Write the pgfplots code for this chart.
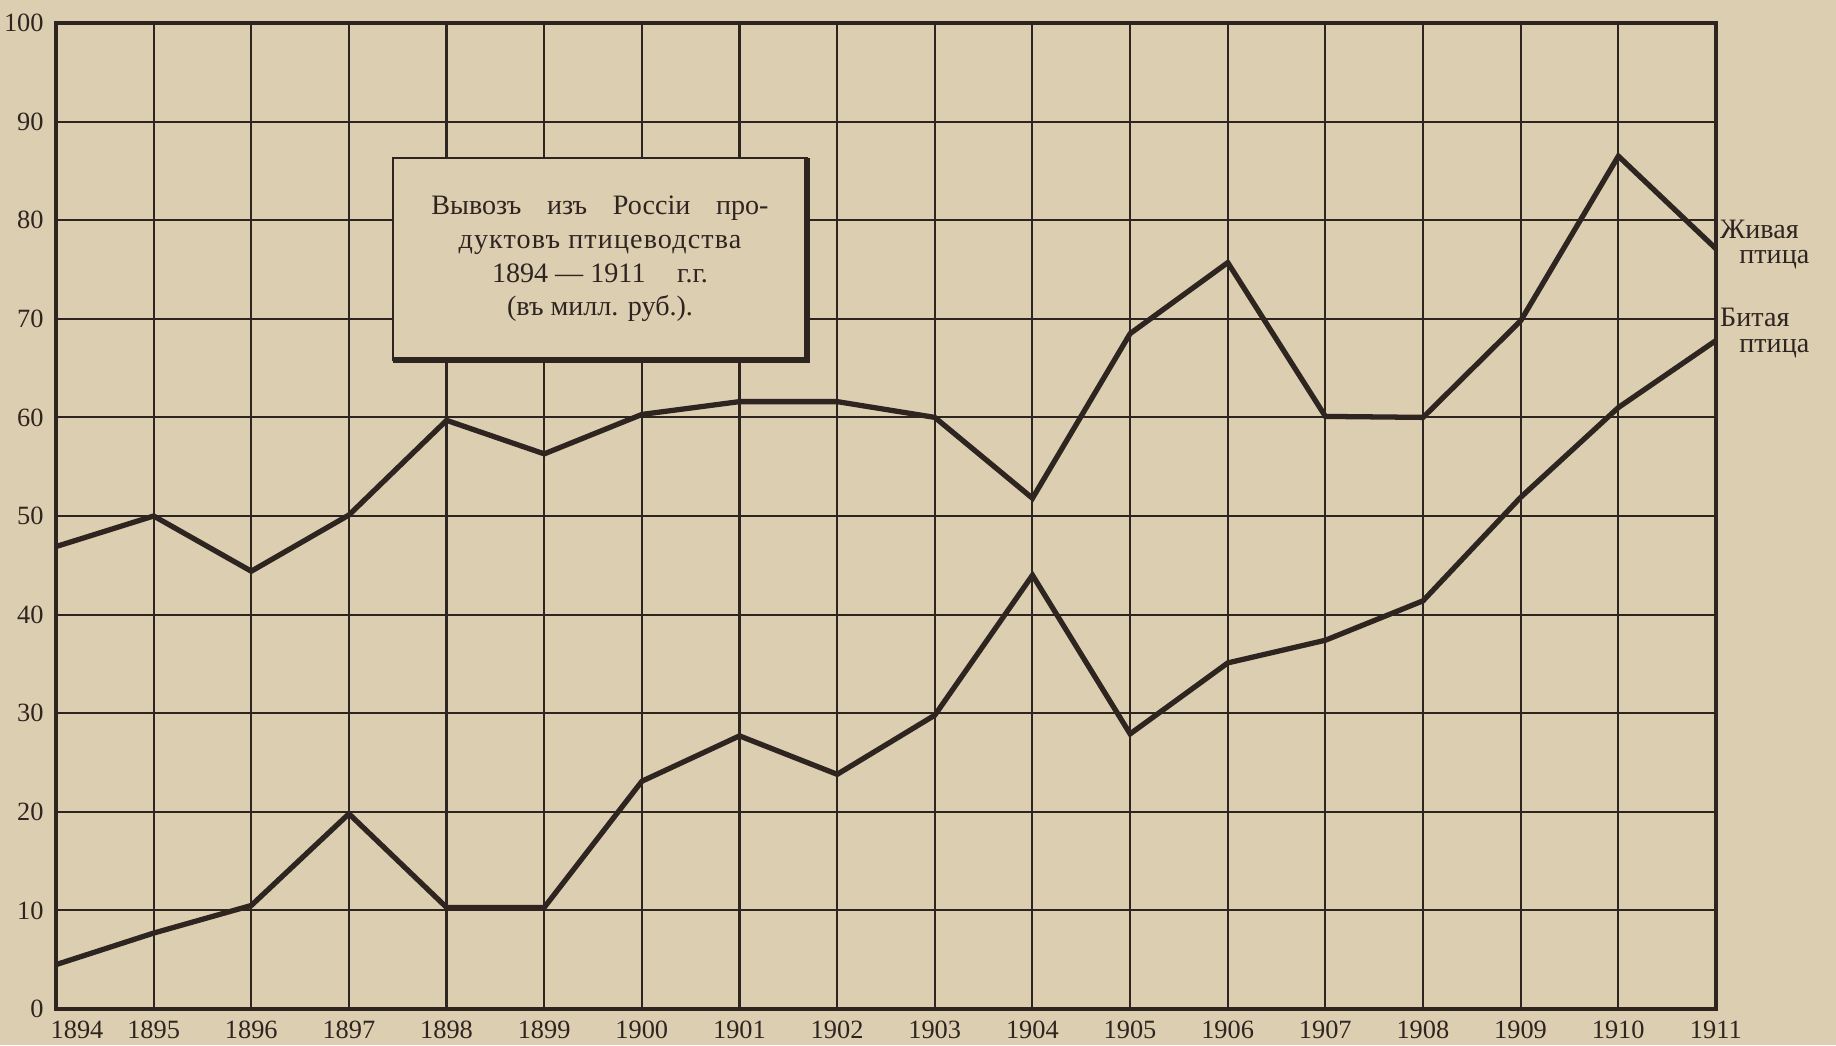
\documentclass[border=0pt]{standalone}
\usepackage{fontspec}
\setmainfont{Liberation Serif}
\usepackage{pgfplots}
\pgfplotsset{compat=1.18}
\definecolor{paper}{RGB}{220,206,176}
\definecolor{ink}{RGB}{46,37,33}
\begin{document}
\begin{tikzpicture}[x=1cm,y=1cm]
\fill[paper] (0,0) rectangle (18.36,10.45);
\begin{axis}[
  at={(0.56cm,0.36cm)}, anchor=south west,
  scale only axis, width=16.6cm, height=9.86cm,
  xmin=1894, xmax=1911, ymin=0, ymax=100,
  xtick={1894,...,1911}, ytick={0,10,...,100},
  xticklabels={\hspace*{0.42cm}1894,1895,1896,1897,1898,1899,1900,1901,1902,1903,1904,1905,1906,1907,1908,1909,1910,1911},
  /pgf/number format/.cd, 1000 sep={}, assume math mode=true,
  /pgfplots/.cd,
  grid=major, grid style={ink, line width=0.6pt},
  axis line style={ink, line width=1.3pt},
  major tick length=0pt,
  tick label style={font=\fontsize{7.5}{8}\selectfont, text=ink},
  clip=false,
]
% Живая птица
\addplot[ink, line width=1.5pt, line join=miter] coordinates {
(1894,46.9) (1895,50.0) (1896,44.4) (1897,50.1) (1898,59.7) (1899,56.3)
(1900,60.3) (1901,61.6) (1902,61.6) (1903,60.0) (1904,51.8) (1905,68.5)
(1906,75.7) (1907,60.1) (1908,60.0) (1909,69.8) (1910,86.5) (1911,77.1)
};
% Битая птица
\addplot[ink, line width=1.5pt, line join=miter] coordinates {
(1894,4.5) (1895,7.7) (1896,10.5) (1897,19.8) (1898,10.3) (1899,10.3)
(1900,23.1) (1901,27.7) (1902,23.8) (1903,29.8) (1904,44.0) (1905,27.9)
(1906,35.1) (1907,37.4) (1908,41.4) (1909,51.9) (1910,61.0) (1911,67.8)
};
\node[anchor=west, inner sep=1pt, text=ink, font=\fontsize{8}{9}\selectfont] at (axis cs:1911,79.1) {Живая};
\node[anchor=east, inner sep=0pt, text=ink, font=\fontsize{8}{9}\selectfont, xshift=0.94cm] at (axis cs:1911,76.0) {птица};
\node[anchor=west, inner sep=1pt, text=ink, font=\fontsize{8}{9}\selectfont] at (axis cs:1911,70.1) {Битая};
\node[anchor=east, inner sep=0pt, text=ink, font=\fontsize{8}{9}\selectfont, xshift=0.94cm] at (axis cs:1911,67.0) {птица};
\end{axis}
\node[fill=paper, draw=ink, line width=0.6pt, minimum width=4.14cm, minimum height=2.02cm,
      align=center, text=ink, font=\fontsize{8}{9.6}\selectfont, inner sep=0pt]
  at (6.0,7.86) {Вывозъ\hspace{5.3pt} изъ\hspace{5.3pt} Россіи\hspace{5.3pt} про-\\
  {\addfontfeature{LetterSpace=4}дуктовъ птицеводства}\\
  1894 — 1911\hspace{7pt} г.г.\\
  (въ милл. руб.).};
\draw[ink, line width=1.6pt] (3.93,6.85) -- (8.07,6.85) -- (8.07,8.87);
\pgfresetboundingbox
\path[use as bounding box] (0,0) rectangle (18.36,10.45);
\end{tikzpicture}
\end{document}
